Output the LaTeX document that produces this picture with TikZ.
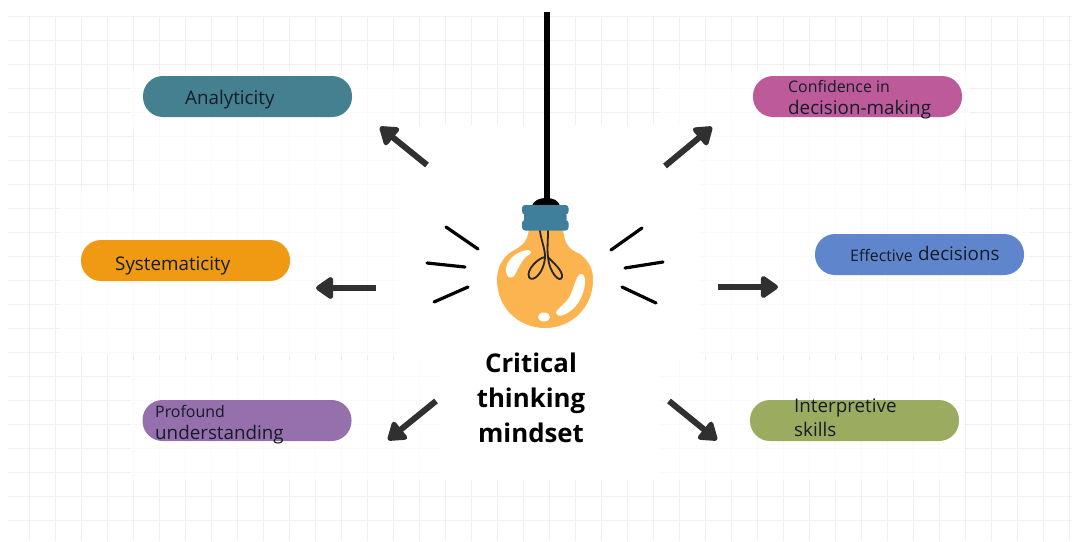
\documentclass[tikz,border=0pt]{standalone}
\usepackage{fontspec}
\setmainfont{Open Sans}
\usetikzlibrary{arrows.meta}
\definecolor{tealc}{HTML}{44808F}
\definecolor{pinkc}{HTML}{BC5A9A}
\definecolor{orangec}{HTML}{EF9A12}
\definecolor{bluec}{HTML}{5F86CC}
\definecolor{purplec}{HTML}{9570AC}
\definecolor{greenc}{HTML}{9BAC60}
\definecolor{bulbc}{HTML}{FBB450}
\definecolor{sockc}{HTML}{3F7F9B}
\definecolor{inkc}{HTML}{141C28}
\definecolor{arrc}{HTML}{303030}
\definecolor{gridc}{HTML}{EFEFEF}
\tikzset{
 pill/.style={rounded corners=20pt,minimum width=209pt,minimum height=41pt,inner sep=0pt,draw=none},
 lab/.style={text=inkc,anchor=west,inner sep=0pt,font=\fontsize{18.8}{19}\selectfont},
 labs/.style={text=inkc,anchor=west,inner sep=0pt,font=\fontsize{15.9}{16}\selectfont},
 bigarrow/.style={draw=arrc,line width=6pt,-{Triangle[round,length=19pt,width=25pt]}},
 ray/.style={draw=black,line width=3.2pt,line cap=round},
 filament/.style={draw=black!85,line width=1.8pt,line cap=round},
 shine/.style={fill=white,draw=none},
 softa/.style={fill=white,draw=none,fill opacity=0.7},
 band/.style={fill=sockc,draw=none,rounded corners=3pt},
 title/.style={font=\fontsize{25.8}{35}\bfseries\selectfont,text=black,align=center,inner sep=0pt}
}
\begin{document}
\begin{tikzpicture}[x=1pt,y=-1pt]
\useasboundingbox (0,0) rectangle (1073,541);
\fill[white] (0,0) rectangle (1073,541);
% background grid
\foreach \x in {29,55,81,107,133,159,185,211,237,263,289,315,341,367,393,419,445,471,497,523,549,575,601,627,653,679,705,731,757,783,809,835,861,887,913,939,965,991,1017,1043,1069}
  \draw[gridc,line width=0.9pt] (\x,16) -- (\x,541);
\foreach \y in {16,40,64,88,112,136,160,184,208,232,256,280,304,328,352,376,400,424,448,472,496,520}
  \draw[gridc,line width=0.9pt] (8,\y) -- (1072,\y);
% patches that fade the grid
\fill[softa] (130,70) rectangle (400,130);
\fill[softa] (660,70) rectangle (970,130);
\fill[softa] (135,130) rectangle (960,190);
\fill[softa] (60,190) rectangle (1030,355);
\fill[softa] (130,360) rectangle (965,480);
\fill[white] (400,125) rectangle (700,190);
\fill[white] (400,190) rectangle (700,360);
\fill[white] (440,360) rectangle (660,480);
% cord and lamp
\draw[black,line width=6pt] (547,12) -- (547,202);
\fill[bulbc] (529,228) -- (563,228) .. controls (564,245) and (570,250) .. (580,254)
  .. controls (590,262) and (593,270) .. (593,280)
  .. controls (593,307) and (572,328) .. (545,328)
  .. controls (518,328) and (497,307) .. (497,280)
  .. controls (497,268) and (502,258) .. (511,252)
  .. controls (522,246) and (528,242) .. (529,228) -- cycle;
\fill[black] (532,207) .. controls (533,200) and (540,198) .. (546,198) .. controls (553,198) and (559,200) .. (560,207) -- cycle;
\fill[band] (522,205) rectangle (568.5,214.5);
\fill[band] (524,212) rectangle (566.5,222.5);
\fill[band] (522,220) rectangle (568.5,230.5);
\path[shine] (528,250) .. controls (533,251) and (531,254) .. (527,256) .. controls (520,262) and (518,270) .. (514,276) .. controls (510,280) and (505,276) .. (506,268) .. controls (508,258) and (518,251) .. (528,250) -- cycle;
\path[shine] (582,274) .. controls (588,276) and (585,296) .. (575,307) .. controls (566,316) and (557,318) .. (556,313) .. controls (556,309) and (566,304) .. (570,296) .. controls (574,288) and (577,272) .. (582,274) -- cycle;
\fill[shine] (544,317) ellipse[x radius=6pt,y radius=4.5pt];
\draw[filament] (540,231) .. controls (541,240) and (545,248) .. (545,257) .. controls (538,258) and (526,270) .. (529,277) .. controls (532,283) and (544,274) .. (545,257);
\draw[filament] (548,231) .. controls (548,240) and (547,250) .. (548,257) .. controls (552,262) and (563,270) .. (562,277) .. controls (560,284) and (549,272) .. (548,257);
% rays
\coordinate (r1a) at (446,227); \coordinate (r1b) at (478,249);
\coordinate (r2a) at (427,263); \coordinate (r2b) at (465,267);
\coordinate (r3a) at (434,302); \coordinate (r3b) at (468,287);
\coordinate (r4a) at (642,228); \coordinate (r4b) at (611,250);
\coordinate (r5a) at (663,262); \coordinate (r5b) at (625,268);
\coordinate (r6a) at (656,303); \coordinate (r6b) at (622,287);
\foreach \i in {1,...,6} \draw[ray] (r\i a) -- (r\i b);
% pills
\node[pill,fill=tealc] (ana) at (247.5,96.5) {};
\node[pill,fill=pinkc] (con) at (857.5,96.5) {};
\node[pill,fill=orangec] (sys) at (185.5,260.5) {};
\node[pill,fill=bluec] (eff) at (919.5,254.5) {};
\node[pill,fill=purplec] (pro) at (247,420.5) {};
\node[pill,fill=greenc] (int) at (854.5,420.5) {};
% pill texts
\node[lab] (tana) at (185,100) {Analyticity};
\node[labs] (tcon1) at (788,86) {Confidence in};
\node[lab] (tcon2) at (788,110) {decision-making};
\node[lab] (tsys) at (115,265.5) {Systematicity};
\node[labs] (teff1) at (850,255) {Effective};
\node[lab] (teff2) at (918,253) {decisions};
\node[labs] (tpro1) at (155,411) {Profound};
\node[lab] (tpro2) at (155,435) {understanding};
\node[lab] (tint1) at (794,408) {Interpretive};
\node[lab] (tint2) at (794,429.5) {skills};
% title
\node[title] (crit) at (531,398) {Critical\\thinking\\mindset};
% arrows
\coordinate (a1s) at (427,165); \coordinate (a1e) at (380,127);
\coordinate (a2s) at (665,166); \coordinate (a2e) at (712,127);
\coordinate (a3s) at (376,288); \coordinate (a3e) at (316,288);
\coordinate (a4s) at (718,287); \coordinate (a4e) at (778,287);
\coordinate (a5s) at (436,401); \coordinate (a5e) at (388,440);
\coordinate (a6s) at (669,401); \coordinate (a6e) at (717,440);
\foreach \i in {1,...,6} \draw[bigarrow] (a\i s) -- (a\i e);
\end{tikzpicture}
\end{document}
